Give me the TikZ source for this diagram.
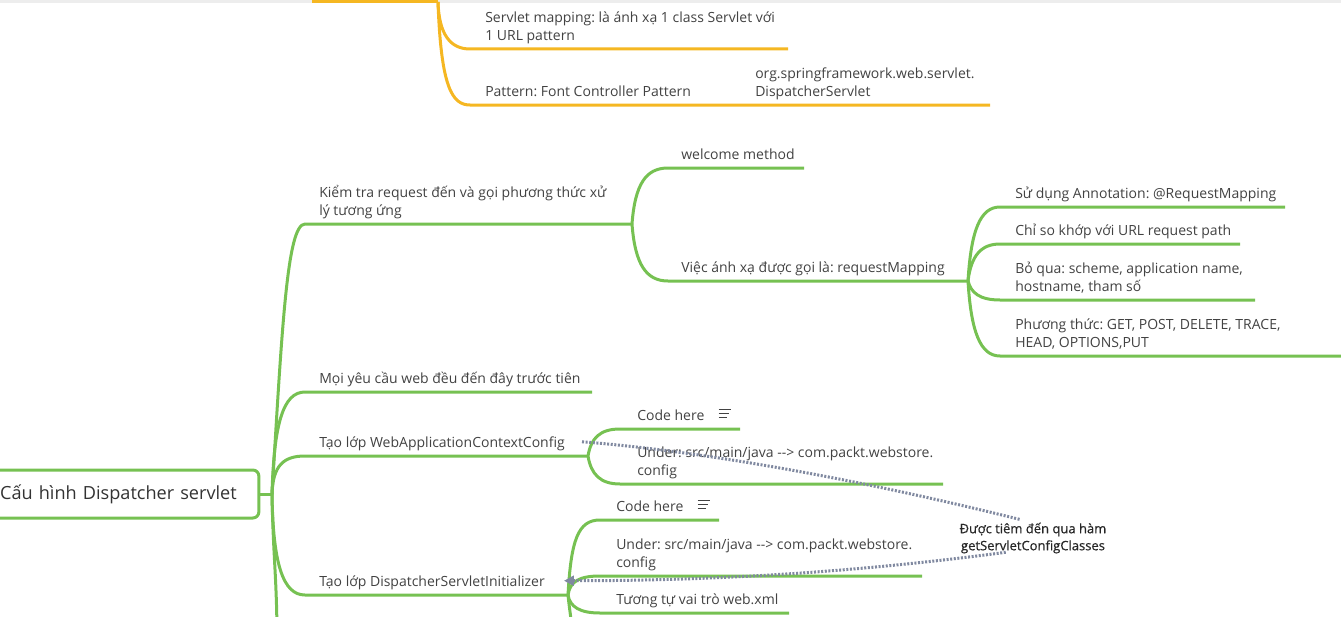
\documentclass[tikz,border=0pt]{standalone}
\usepackage{fontspec}
\setmainfont{Open Sans}
\newfontfamily\linkfont{Open Sans}[FakeBold=0.6]
\usetikzlibrary{arrows.meta,positioning}
\frenchspacing

\definecolor{mapgreen}{RGB}{118,193,82}
\definecolor{maporange}{RGB}{245,183,34}
\definecolor{maptext}{RGB}{66,66,66}
\definecolor{maplink}{RGB}{128,137,160}

\tikzset{
  topic/.style={anchor=south west,inner xsep=0pt,inner ysep=1.95pt,align=left,
    text=maptext,font=\fontsize{10.5}{13.5}\selectfont,execute at end node=\strut},
  rootbox/.style={anchor=west,draw=mapgreen,line width=2.25pt,rounded corners=4.5pt,
    inner xsep=8pt,text width=186pt,minimum height=36pt,align=left,
    text=black!80,font=\fontsize{13.6}{16}\selectfont},
  linklabel/.style={align=center,inner sep=2pt,text=black!85,
    font=\linkfont\fontsize{9.75}{12.75}\selectfont},
  gbranch/.style={draw=mapgreen,line width=2.25pt},
  obranch/.style={draw=maporange,line width=2.25pt},
  relink/.style={draw=maplink,line width=2.25pt,dash pattern=on 1.5pt off 1.2pt},
  noteline/.style={draw=maptext,line width=0.75pt},
}

\begin{document}
\begin{tikzpicture}[x=0.75pt,y=-0.75pt]
\useasboundingbox (0,0) rectangle (1341,617);
\fill[black!7] (0,0) rectangle (1341,3);

% top part (orange)
\coordinate (o-top) at (312,2);
\coordinate (o-j) at (438,2);
\coordinate (map-l) at (470,49);
\coordinate (map-r) at (788,49);
\coordinate (pat-l) at (470,105);
\coordinate (pat-r) at (755,105);
\coordinate (org-r) at (990,105);
\draw[obranch] (o-top) -- (o-j);
\draw[obranch] (o-j) .. controls +(1,32) and +(-20,0) .. (map-l) -- (map-r);
\draw[obranch] (o-j) .. controls +(3,85) and +(-18,0) .. (pat-l) -- (pat-r) -- (org-r);
\node[topic] (map) at (485,49) {Servlet mapping: là ánh xạ 1 class Servlet với\\1 URL pattern};
\node[topic] (pat) at (485,105) {Pattern: Font Controller Pattern};
\node[topic] (org) at (755,105) {org.springframework.web.servlet.\\DispatcherServlet};

% root
\node[rootbox] (root) at (-12,494) {Cấu hình Dispatcher servlet};
\coordinate (root-j) at (272,494);
\coordinate (root-d) at (277,640);
\draw[gbranch] (root.east) -- (root-j);

\coordinate (kiem-l) at (305,224);  \coordinate (kiem-r) at (632,224);
\coordinate (moi-l) at (305,392);   \coordinate (moi-r) at (592,392);
\coordinate (web-l) at (305,456);   \coordinate (web-r) at (588,456);
\coordinate (disp-l) at (305,595);  \coordinate (disp-r) at (568,595);

\draw[gbranch] (root-j) .. controls +(10,-165) and +(-18,0) .. (kiem-l) -- (kiem-r);
\draw[gbranch] (root-j) .. controls +(2,-70) and +(-22,0) .. (moi-l) -- (moi-r);
\draw[gbranch] (root-j) .. controls +(1,-28) and +(-22,0) .. (web-l) -- (web-r);
\draw[gbranch] (root-j) .. controls +(1,70) and +(-22,0) .. (disp-l) -- (disp-r);
\draw[gbranch] (root-j) .. controls +(1,60) and +(0,-60) .. (root-d);

\node[topic] (kiem) at (319,224) {Kiểm tra request đến và gọi phương thức xử\\lý tương ứng};
\node[topic] (moi) at (319,392) {Mọi yêu cầu web đều đến đây trước tiên};
\node[topic] (web) at (319,456) {Tạo lớp WebApplicationContextConfig};
\node[topic] (disp) at (319,595) {Tạo lớp DispatcherServletInitializer};

% request mapping
\coordinate (welc-l) at (668,168);  \coordinate (welc-r) at (804,168);
\coordinate (viec-l) at (668,281);  \coordinate (viec-r) at (968,281);
\draw[gbranch] (kiem-r) .. controls +(3,-40) and +(-22,0) .. (welc-l) -- (welc-r);
\draw[gbranch] (kiem-r) .. controls +(3,40) and +(-22,0) .. (viec-l) -- (viec-r);
\node[topic] (welc) at (681,168) {welcome method};
\node[topic] (viec) at (681,281) {Việc ánh xạ được gọi là: requestMapping};

\coordinate (sud-l) at (1000,207);  \coordinate (sud-r) at (1285,207);
\coordinate (chi-l) at (1000,244);  \coordinate (chi-r) at (1240,244);
\coordinate (bo-l) at (1000,300);   \coordinate (bo-r) at (1255,300);
\coordinate (phu-l) at (1000,356);  \coordinate (phu-r) at (1350,356);
\draw[gbranch] (viec-r) .. controls +(3,-50) and +(-20,0) .. (sud-l) -- (sud-r);
\draw[gbranch] (viec-r) .. controls +(3,-24) and +(-20,0) .. (chi-l) -- (chi-r);
\draw[gbranch] (viec-r) .. controls +(3,12) and +(-20,0) .. (bo-l) -- (bo-r);
\draw[gbranch] (viec-r) .. controls +(3,50) and +(-20,0) .. (phu-l) -- (phu-r);
\node[topic] (sud) at (1015,207) {Sử dụng Annotation: @RequestMapping};
\node[topic] (chi) at (1015,244) {Chỉ so khớp với URL request path};
\node[topic] (bo) at (1015,300) {Bỏ qua: scheme, application name,\\hostname, tham số};
\node[topic] (phu) at (1015,356) {Phương thức: GET, POST, DELETE, TRACE,\\HEAD, OPTIONS,PUT};

% WebApplicationContextConfig
\coordinate (code1-l) at (620,429);  \coordinate (code1-r) at (740,429);
\coordinate (und1-l) at (620,484);   \coordinate (und1-r) at (943,484);
\draw[gbranch] (web-r) .. controls +(3,-18) and +(-20,0) .. (code1-l) -- (code1-r);
\draw[gbranch] (web-r) .. controls +(3,18) and +(-20,0) .. (und1-l) -- (und1-r);
\node[topic] (code1) at (637,429) {Code here};
\node[topic] (und1) at (637,484) {Under: src/main/java -{}-> com.packt.webstore.\\config};

% DispatcherServletInitializer
\coordinate (code2-l) at (600,520);  \coordinate (code2-r) at (719,520);
\coordinate (und2-l) at (600,576);   \coordinate (und2-r) at (922,576);
\coordinate (tuong-l) at (600,613);  \coordinate (tuong-r) at (789,613);
\coordinate (disp-d) at (572,640);
\draw[gbranch] (disp-r) .. controls +(3,-55) and +(-22,0) .. (code2-l) -- (code2-r);
\draw[gbranch] (disp-r) .. controls +(2,-14) and +(-20,0) .. (und2-l) -- (und2-r);
\draw[gbranch] (disp-r) .. controls +(2,12) and +(-20,0) .. (tuong-l) -- (tuong-r);
\draw[gbranch] (disp-r) .. controls +(2,20) and +(0,-20) .. (disp-d);
\node[topic] (code2) at (616,520) {Code here};
\node[topic] (und2) at (616,576) {Under: src/main/java -{}-> com.packt.webstore.\\config};
\node[topic] (tuong) at (616,613) {Tương tự vai trò web.xml};

% note icons
\foreach \nd in {code1,code2}{
  \coordinate (\nd-note) at ([shift={(14,-11)}]\nd.base east);
  \foreach \dy/\len in {0/12,4/10,8/8}
    \draw[noteline] (\nd-note) ++(0,\dy) -- ++(\len,0);
}

% relation
\node[linklabel] (inject) at (1033,538) {Được tiêm đến qua hàm\\getServletConfigClasses};
\coordinate (lnk-a) at ([shift={(17,-6)}]web.base east);
\coordinate (lnk-b) at ([xshift=-9pt]inject.north);
\coordinate (lnk-c) at ([shift={(49,-4)}]inject.south west);
\coordinate (lnk-d) at ([shift={(19,-6)}]disp.base east);
\draw[relink] (lnk-a) .. controls +(150,12) and +(-120,-30) .. (lnk-b);
\draw[relink,-{Triangle[length=7.5pt,width=7.5pt]}] (lnk-c) .. controls +(-150,20) and +(150,0) .. (lnk-d);
\end{tikzpicture}
\end{document}
